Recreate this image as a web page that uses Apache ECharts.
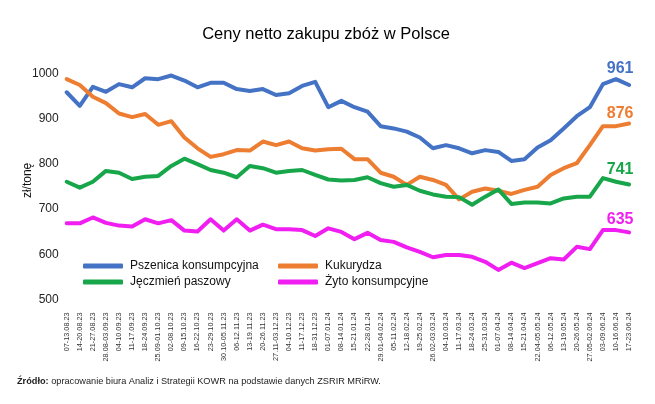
<!DOCTYPE html>
<html>
<head>
<meta charset="utf-8">
<script src="https://cdn.jsdelivr.net/npm/echarts@6/dist/echarts.min.js"></script>
<style>html,body{margin:0;padding:0;background:#fff}#c{width:655px;height:404px}</style>
</head>
<body>
<div id="c"></div>
<script>
const categories = ["07-13.08.23","14-20.08.23","21-27.08.23","28.08-03.09.23","04-10.09.23","11-17.09.23","18-24.09.23","25.09-01.10.23","02-08.10.23","09-15.10.23","16-22.10.23","23-29.10.23","30.10-05.11.23","06-12.11.23","13-19.11.23","20-26.11.23","27.11-03.12.23","04-10.12.23","11-17.12.23","18-31.12.23","01-07.01.24","08-14.01.24","15-21.01.24","22-28.01.24","29.01-04.02.24","05-11.02.24","12-18.02.24","19-25.02.24","26.02-03.03.24","04-10.03.24","11-17.03.24","18-24.03.24","25-31.03.24","01-07.04.24","08-14.04.24","15-21.04.24","22.04-05.05.24","06-12.05.24","13-19.05.24","20-26.05.24","27.05-02.06.24","03-09.06.24","10-16.06.24","17-23.06.24"];

const pszenica = [945,915,957,946,963,956,976,974,982,971,956,966,966,952,948,952,939,943,959,968,912,926,912,902,870,865,858,845,821,828,821,810,817,813,793,797,823,839,865,892,912,963,974,961];
const kukurydza = [974,961,935,921,898,890,897,873,881,845,821,802,808,817,816,836,828,836,821,816,819,820,797,797,767,758,740,758,751,740,708,725,732,727,720,729,736,762,777,788,828,870,870,876];
const jeczmien = [747,734,747,771,767,753,758,760,782,798,786,773,767,757,782,777,767,771,773,762,752,750,751,757,744,736,740,727,719,714,713,696,714,730,698,701,701,699,710,714,714,755,747,741];
const zyto = [655,655,668,656,650,648,664,655,662,639,637,664,639,664,639,652,642,642,640,627,644,636,620,634,618,614,602,592,580,585,585,581,570,552,568,556,567,578,575,603,598,640,640,635];

const seriesNames = ["Pszenica konsumpcyjna","Kukurydza","Jęczmień paszowy","Żyto konsumpcyjne"];
const seriesColors = ["#4472C4","#ED7D31","#18A64B","#F01EF0"];
const yTicks = [500,600,700,800,900,1000];

const FONT = "'Liberation Sans',Arial,sans-serif";

function mkSeries(name, data, color, labelDy) {
  const last = data.length - 1;
  return {
    name: name,
    type: 'line',
    data: data.map((v, i) => i === last ? {
      value: v,
      label: {show: true, position: 'top', distance: 5, offset: [-9, labelDy], formatter: String(v),
        color: color, fontSize: 16, fontWeight: 'bold', fontFamily: FONT}
    } : v),
    symbol: 'circle',
    symbolSize: 0.01,
    showSymbol: true,
    lineStyle: {width: 4, color: color, cap: 'round', join: 'round'},
    itemStyle: {color: color},
    label: {show: false},
    emphasis: {disabled: true},
    z: 3
  };
}

const chart = echarts.init(document.getElementById('c'), null, {renderer: 'canvas'});
chart.setOption({
  animation: false,
  backgroundColor: '#fff',
  color: seriesColors,
  title: {
    text: 'Ceny netto zakupu zbóż w Polsce',
    left: 321, textAlign: 'center', top: 21,
    textStyle: {fontFamily: FONT, fontSize: 16.5, fontWeight: 'normal', color: '#000'}
  },
  grid: {left: 66.7, right: 25.9, top: 67.4, bottom: 110.6, containLabel: false},
  xAxis: {
    type: 'category',
    data: categories,
    boundaryGap: false,
    axisLine: {show: false},
    axisTick: {show: false},
    splitLine: {show: false},
    axisLabel: {interval: 0, rotate: 90, margin: 19, fontSize: 7.3, fontFamily: FONT, color: '#333'}
  },
  yAxis: {
    type: 'value',
    min: yTicks[0], max: yTicks[yTicks.length - 1], interval: 100,
    name: 'zł/tonę',
    nameLocation: 'middle', nameGap: 33, nameRotate: 90, nameMoveOverlap: false,
    nameTextStyle: {fontFamily: FONT, fontSize: 12, color: '#111'},
    axisLine: {show: false},
    axisTick: {show: false},
    splitLine: {show: false},
    axisLabel: {margin: 8, fontSize: 12, fontFamily: FONT, color: '#222',
      verticalAlign: 'top', lineHeight: 12, formatter: v => String(v)}
  },
  legend: [
    {
      data: [seriesNames[0], seriesNames[2]],
      orient: 'vertical', left: 78, top: 255, itemGap: 4,
      itemWidth: 40, itemHeight: 5, icon: 'roundRect',
      textStyle: {fontFamily: FONT, fontSize: 12, color: '#111', padding: [0, 0, 0, 2]}
    },
    {
      data: [seriesNames[1], seriesNames[3]],
      orient: 'vertical', left: 273, top: 255, itemGap: 4,
      itemWidth: 40, itemHeight: 5, icon: 'roundRect',
      textStyle: {fontFamily: FONT, fontSize: 12, color: '#111', padding: [0, 0, 0, 2]}
    }
  ],
  graphic: [{
    type: 'text', left: 17, top: 377,
    style: {
      text: '{b|Źródło:} opracowanie biura Analiz i Strategii KOWR na podstawie danych ZSRIR MRiRW.',
      fontFamily: FONT, fontSize: 9.2, fill: '#222',
      rich: {b: {fontWeight: 'bold', fontFamily: FONT, fontSize: 9.2, color: '#111'}}
    }
  }],
  series: [
    mkSeries(seriesNames[0], pszenica, seriesColors[0], -3),
    mkSeries(seriesNames[1], kukurydza, seriesColors[1], 3),
    mkSeries(seriesNames[2], jeczmien, seriesColors[2], -2),
    mkSeries(seriesNames[3], zyto, seriesColors[3], 0)
  ]
});
</script>
</body>
</html>
